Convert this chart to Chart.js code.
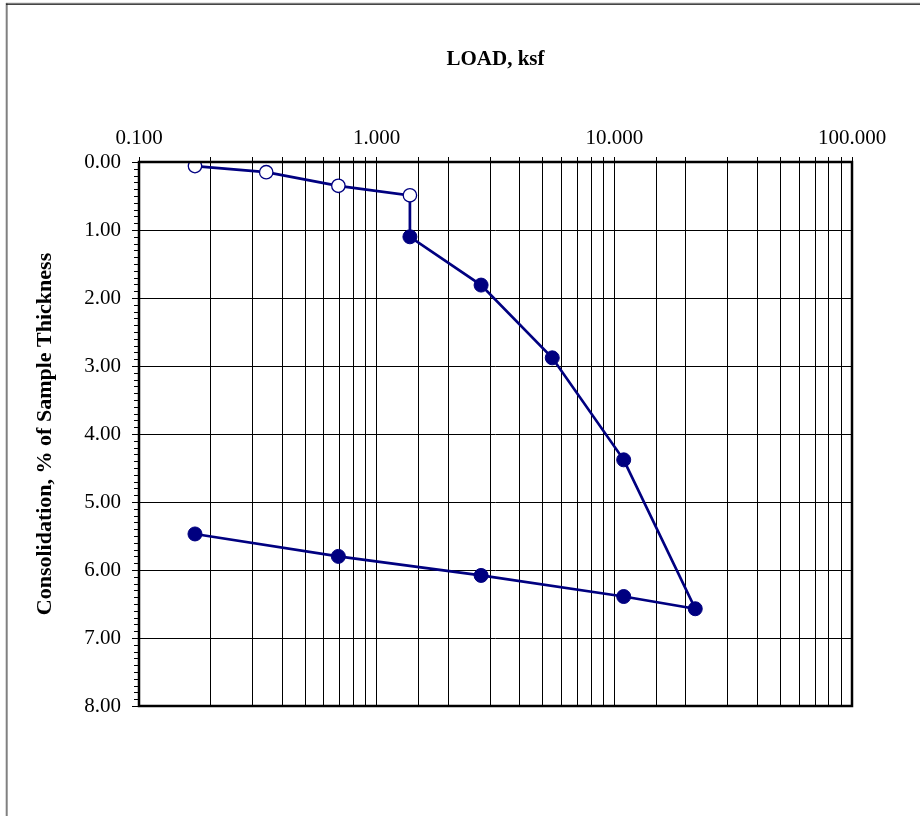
<!DOCTYPE html>
<html>
<head>
<meta charset="utf-8">
<title>Consolidation Test</title>
<script src="https://cdn.jsdelivr.net/npm/chart.js@4/dist/chart.umd.min.js"></script>
<style>
  html, body { margin: 0; padding: 0; background: #ffffff; }
  #wrap { width: 920px; height: 816px; position: relative; }
</style>
</head>
<body>
<div id="wrap"><canvas id="chart" width="920" height="816"></canvas></div>
<script>
// Consolidation test readings: applied load (ksf) vs. consolidation (% of sample thickness)
const loadKsf          = [0.172, 0.343, 0.69, 1.38, 1.38, 2.75, 5.48, 10.95, 21.9, 10.95, 2.75, 0.69, 0.172];
const consolidationPct = [0.06,  0.15,  0.35, 0.49, 1.10, 1.81, 2.88, 4.38,  6.57, 6.39,  6.08, 5.80, 5.47];
// Test stage of each reading: seating (open symbol) or load/unload (filled symbol)
const stage = ['seat', 'seat', 'seat', 'seat', 'load', 'load', 'load', 'load', 'load',
               'unload', 'unload', 'unload', 'unload'];

// Axis ranges and tick labels
const xMin = 0.1, xMax = 100;
const yMin = 0, yMax = 8;
const xTickLabels = ['0.100', '1.000', '10.000', '100.000'];
const yTickLabels = ['0.00', '1.00', '2.00', '3.00', '4.00', '5.00', '6.00', '7.00', '8.00'];

const NAVY = '#000080';
const SERIF = '"Liberation Serif", "Times New Roman", Times, serif';

const points = loadKsf.map((x, i) => ({ x: x, y: consolidationPct[i] }));

// Page border, plot frame and minor tick marks on the consolidation axis
const decorations = {
  id: 'decorations',
  beforeDraw(chart) {
    const ctx = chart.ctx;
    ctx.save();
    ctx.fillStyle = '#ffffff';
    ctx.fillRect(0, 0, chart.width, chart.height);
    ctx.fillStyle = '#808080';
    ctx.fillRect(5.7, 3, 2, chart.height - 3);
    ctx.fillStyle = '#c8c8c8';
    ctx.fillRect(6, 2.5, chart.width - 6, 1);
    ctx.fillStyle = '#1a1a1a';
    ctx.fillRect(6, 3.5, chart.width - 6, 1.3);
    ctx.restore();
  },
  afterDraw(chart) {
    const { ctx, chartArea } = chart;
    const y = chart.scales.y;
    ctx.save();
    ctx.strokeStyle = '#000';
    ctx.lineWidth = 1;
    ctx.beginPath();
    for (let k = 1; k < (yMax - yMin) * 10; k++) {
      if (k % 10 === 0) continue;
      const py = Math.round(y.getPixelForValue(yMin + k / 10)) + 0.5;
      ctx.moveTo(chartArea.left - 5, py);
      ctx.lineTo(chartArea.left, py);
    }
    ctx.stroke();
    ctx.lineWidth = 2.5;
    ctx.strokeRect(chartArea.left, chartArea.top,
                   chartArea.right - chartArea.left, chartArea.bottom - chartArea.top);
    ctx.restore();
  }
};

const isDecade = v => Math.abs(Math.log10(v) - Math.round(Math.log10(v))) < 1e-9;

new Chart(document.getElementById('chart'), {
  type: 'scatter',
  data: {
    datasets: [{
      data: points,
      showLine: true,
      borderColor: NAVY,
      borderWidth: 2.7,
      tension: 0,
      pointRadius: stage.map(s => s === 'seat' ? 6.7 : 7),
      pointBackgroundColor: stage.map(s => s === 'seat' ? '#ffffff' : NAVY),
      pointBorderColor: NAVY,
      pointBorderWidth: stage.map(s => s === 'seat' ? 1.3 : 1),
      pointHoverRadius: 7
    }]
  },
  plugins: [decorations],
  options: {
    responsive: false,
    animation: false,
    devicePixelRatio: 1,
    layout: { padding: { left: 0, top: 0, right: 68, bottom: 110 } },
    plugins: {
      legend: { display: false },
      tooltip: { enabled: false },
      title: { display: false }
    },
    scales: {
      x: {
        type: 'logarithmic',
        position: 'top',
        min: xMin,
        max: xMax,
        afterFit(scale) { scale.height = 162; },
        border: { display: false },
        grid: { color: '#000', lineWidth: 1, tickLength: 5, tickColor: '#000', drawTicks: true },
        ticks: {
          autoSkip: false,
          maxRotation: 0,
          minRotation: 0,
          padding: 6,
          color: '#000',
          font: { family: SERIF, size: 21 },
          callback(value) {
            if (!isDecade(value)) return '';
            const idx = Math.round(Math.log10(value / xMin));
            return xTickLabels[idx] !== undefined ? xTickLabels[idx] : '';
          }
        },
        title: {
          display: true,
          text: 'LOAD, ksf',
          color: '#000',
          font: { family: SERIF, size: 21, weight: 'bold', lineHeight: 1.2 },
          padding: { top: 47, bottom: 0 }
        }
      },
      y: {
        type: 'linear',
        reverse: true,
        min: yMin,
        max: yMax,
        afterFit(scale) { scale.width = 139; },
        border: { display: false },
        grid: { color: '#000', lineWidth: 1, tickLength: 7, tickColor: '#000' },
        ticks: {
          stepSize: 1,
          padding: 11,
          color: '#000',
          font: { family: SERIF, size: 21 },
          callback(value) {
            const idx = Math.round(value - yMin);
            return yTickLabels[idx] !== undefined ? yTickLabels[idx] : '';
          }
        },
        title: {
          display: true,
          text: 'Consolidation, % of Sample Thickness',
          color: '#000',
          font: { family: SERIF, size: 22, weight: 'bold', lineHeight: 1.2 },
          padding: { top: 32, bottom: 0 }
        }
      }
    }
  }
});
</script>
</body>
</html>
